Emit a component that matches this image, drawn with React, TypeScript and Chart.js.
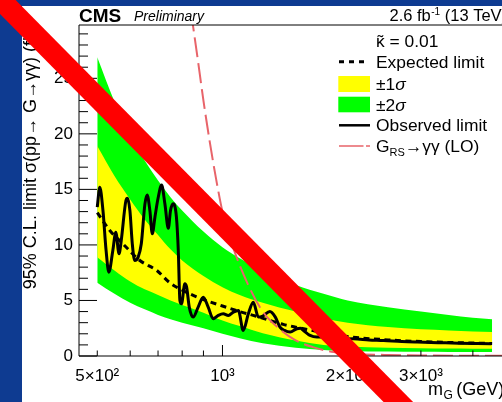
import React, { useEffect, useRef } from 'react';
import { Chart, registerables } from 'chart.js';

Chart.register(...registerables);

// ---------- data ----------
const bandMass = [500, 550, 600, 650, 700, 750, 800, 900, 1000, 1100, 1250, 1500, 1750, 2000, 2500, 3000, 3500, 4000, 4450];
const band2SigmaUp = [26.9, 22.9, 19.8, 17.6, 15.8, 14.3, 13.1, 11.2, 9.8, 8.8, 7.7, 6.4, 5.6, 5.0, 4.4, 4.0, 3.7, 3.45, 3.3];
const band1SigmaUp = [18.9, 16.2, 14.1, 12.3, 10.9, 9.6, 8.6, 7.2, 6.2, 5.5, 4.8, 4.0, 3.4, 3.0, 2.6, 2.4, 2.3, 2.2, 2.15];
const band1SigmaDown = [8.9, 7.7, 6.7, 6.0, 5.5, 5.0, 4.6, 3.9, 3.2, 2.7, 2.05, 1.4, 1.0, 0.85, 0.75, 0.7, 0.68, 0.66, 0.65];
const band2SigmaDown = [6.6, 5.6, 4.8, 4.2, 3.7, 3.3, 3.0, 2.5, 2.0, 1.6, 1.15, 0.75, 0.55, 0.45, 0.4, 0.38, 0.37, 0.36, 0.36];

const expectedMass = [500, 536, 576, 633, 695, 747, 803, 883, 1000, 1100, 1200, 1300, 1400, 1500, 1750, 2000, 2500, 3000, 3500, 4000, 4450];
const expectedLimit = [12.9, 11.3, 10.1, 8.6, 7.7, 6.6, 5.9, 5.2, 4.5, 4.0, 3.6, 3.2, 2.85, 2.6, 2.1, 1.75, 1.45, 1.3, 1.22, 1.17, 1.12];

const observedMass = [500, 507, 516, 525, 533, 545, 554, 564, 571, 586, 591, 599, 607, 615, 627, 638, 651, 659, 669, 678, 688, 700, 714, 727, 741, 750, 761, 775, 783, 790, 797, 812, 820, 832, 850, 874, 899, 924, 950, 977, 1004, 1033, 1062, 1092, 1122, 1154, 1186, 1220, 1250, 1300, 1340, 1375, 1410, 1454, 1509, 1540, 1566, 1624, 1686, 1750, 1815, 1900, 2065, 2250, 2440, 2700, 2940, 3300, 3700, 4100, 4430];
const observedLimit = [13.4, 15.2, 13.1, 9.5, 7.55, 9.5, 11.15, 9.2, 10.4, 14.0, 14.2, 13.1, 10.1, 8.6, 8.9, 10.1, 13.7, 14.5, 13.1, 11.0, 12.5, 14.2, 15.4, 13.7, 11.5, 13.1, 13.7, 12.5, 9.5, 5.0, 4.7, 6.5, 6.2, 4.4, 3.5, 4.4, 5.3, 4.4, 3.35, 3.65, 3.8, 3.65, 3.95, 4.1, 2.3, 3.8, 4.85, 3.5, 3.6, 4.0, 3.5, 2.6, 2.3, 2.15, 2.45, 2.5, 2.3, 1.85, 1.7, 1.7, 1.55, 1.5, 1.55, 1.45, 1.4, 1.3, 1.25, 1.2, 1.15, 1.12, 1.1];

const theoryMass = [840, 870, 900, 930, 970, 1000, 1060, 1150, 1250, 1375, 1500, 1650, 1850, 2100, 2500, 3000, 4000, 5500];
const theoryXsec = [31, 27, 23, 19.5, 15.5, 13, 9.8, 6.5, 4.0, 2.4, 1.4, 0.8, 0.35, 0.18, 0.09, 0.05, 0.02, 0.01];

const xTickValues = [500, 600, 700, 800, 900, 1000, 2000, 3000, 4000];
const xTickLabels: Record<number, string> = { 500: '5×10²', 1000: '10³', 2000: '2×10³', 3000: '3×10³' };
const yTickValues = Array.from({ length: 30 }, (_, i) => i);
const yTitle = '95% C.L. limit σ(pp→ G→γγ) (fb)';

const FONT = "'Liberation Sans', Arial, Helvetica, sans-serif";

const pts = (xs: number[], ys: number[]) => xs.map((x, i) => ({ x, y: ys[i] }));

function drawText(ctx: CanvasRenderingContext2D, s: string, x: number, y: number, font: string, color = '#000', align: CanvasTextAlign = 'left') {
  ctx.font = font;
  ctx.fillStyle = color;
  ctx.textAlign = align;
  ctx.textBaseline = 'alphabetic';
  ctx.fillText(s, x, y);
  return ctx.measureText(s).width;
}

const decorPlugin = {
  id: 'decor',
  beforeDraw(chart: any) {
    const { ctx, width, height } = chart;
    ctx.save();
    ctx.fillStyle = '#0e3b91';
    ctx.fillRect(0, 0, width, height);
    ctx.fillStyle = '#ffffff';
    ctx.fillRect(22, 6, width - 22, height - 6);
    ctx.restore();
  },
  afterDatasetsDraw(chart: any) {
    const { ctx, chartArea: ca, scales } = chart;
    const xs = scales.x;
    const ys = scales.y;
    ctx.save();
    ctx.strokeStyle = '#000';
    ctx.lineWidth = 1;
    ctx.beginPath();
    ctx.moveTo(ca.left, ca.top);
    ctx.lineTo(ca.left, ca.bottom);
    ctx.moveTo(ca.left, ca.bottom);
    ctx.lineTo(chart.width, ca.bottom);
    ctx.moveTo(ca.left, ca.top);
    ctx.lineTo(chart.width, ca.top);
    for (const v of yTickValues) {
      const py = ys.getPixelForValue(v);
      const len = v % 5 === 0 ? 18 : 9;
      ctx.moveTo(ca.left, py);
      ctx.lineTo(ca.left + len, py);
    }
    for (const v of xTickValues) {
      const px = xs.getPixelForValue(v);
      const len = v === 1000 ? 11 : 5.5;
      ctx.moveTo(px, ca.bottom);
      ctx.lineTo(px, ca.bottom - len);
    }
    ctx.stroke();
    ctx.restore();
  },
  afterDraw(chart: any) {
    const { ctx } = chart;
    ctx.save();
    // header
    drawText(ctx, 'CMS', 79, 21.7, `bold 19px ${FONT}`);
    drawText(ctx, 'Preliminary', 134, 20.7, `italic 14px ${FONT}`);
    let hx = 389.5;
    hx += drawText(ctx, '2.6 fb', hx, 20.7, `16.5px ${FONT}`);
    hx += drawText(ctx, '-1', hx + 0.5, 15, `10px ${FONT}`) + 0.5;
    drawText(ctx, ' (13 TeV)', hx, 20.7, `16.5px ${FONT}`);

    // x-axis title
    let tx = 428;
    tx += drawText(ctx, 'm', tx, 395, `18px ${FONT}`);
    tx += drawText(ctx, 'G', tx + 0.5, 399, `12px ${FONT}`) + 0.5;
    drawText(ctx, '(GeV)', tx + 3.5, 395, `18px ${FONT}`);

    // legend
    const LF = `17.4px ${FONT}`;
    const tX = 376;
    const kw = drawText(ctx, 'κ', tX, 46.7, LF);
    drawText(ctx, '˜', tX + kw / 2, 46.7, LF, '#000', 'center');
    drawText(ctx, ' = 0.01', tX + kw, 46.7, LF);

    ctx.strokeStyle = '#000';
    ctx.lineWidth = 3;
    ctx.setLineDash([5, 5]);
    ctx.beginPath();
    ctx.moveTo(339, 61.7);
    ctx.lineTo(364, 61.7);
    ctx.stroke();
    ctx.setLineDash([]);
    drawText(ctx, 'Expected limit', tX, 68.3, LF);

    ctx.fillStyle = '#ffff00';
    ctx.fillRect(338.3, 76, 31.7, 16);
    let sx = tX + drawText(ctx, '±1', tX, 89.6, LF);
    drawText(ctx, 'σ', sx, 89.6, `italic 17.4px ${FONT}`);

    ctx.fillStyle = '#00ff00';
    ctx.fillRect(338.3, 96.7, 31.7, 15.6);
    sx = tX + drawText(ctx, '±2', tX, 110.7, LF);
    drawText(ctx, 'σ', sx, 110.7, `italic 17.4px ${FONT}`);

    ctx.strokeStyle = '#000';
    ctx.lineWidth = 2.5;
    ctx.beginPath();
    ctx.moveTo(339, 125.3);
    ctx.lineTo(370, 125.3);
    ctx.stroke();
    drawText(ctx, 'Observed limit', tX, 130.5, LF);

    ctx.strokeStyle = '#e8646a';
    ctx.lineWidth = 1.6;
    ctx.setLineDash([24.5, 2.5]);
    ctx.beginPath();
    ctx.moveTo(339, 146);
    ctx.lineTo(370, 146);
    ctx.stroke();
    ctx.setLineDash([]);
    let gx = tX + drawText(ctx, 'G', tX, 151.7, LF);
    gx += drawText(ctx, 'RS', gx, 156, `11px ${FONT}`);
    drawText(ctx, '→γγ (LO)', gx, 151.7, LF);

    // red cross-out stroke
    ctx.strokeStyle = '#ff0000';
    ctx.lineWidth = 21;
    ctx.lineCap = 'butt';
    ctx.beginPath();
    ctx.moveTo(-31, -32.2);
    ctx.lineTo(428, 432);
    ctx.stroke();
    ctx.restore();
  },
};

export default function App() {
  const ref = useRef<HTMLCanvasElement | null>(null);
  useEffect(() => {
    if (!ref.current) return;
    const chart = new Chart(ref.current, {
      type: 'line',
      data: {
        datasets: [
          { label: 'g2up', data: pts(bandMass, band2SigmaUp), borderColor: 'transparent', borderWidth: 0, pointRadius: 0, backgroundColor: '#00ff00', fill: '+1', order: 10, cubicInterpolationMode: 'monotone' },
          { label: 'g2dn', data: pts(bandMass, band2SigmaDown), borderColor: 'transparent', borderWidth: 0, pointRadius: 0, fill: false, order: 10, cubicInterpolationMode: 'monotone' },
          { label: 'y1up', data: pts(bandMass, band1SigmaUp), borderColor: 'transparent', borderWidth: 0, pointRadius: 0, backgroundColor: '#ffff00', fill: '+1', order: 9, cubicInterpolationMode: 'monotone' },
          { label: 'y1dn', data: pts(bandMass, band1SigmaDown), borderColor: 'transparent', borderWidth: 0, pointRadius: 0, fill: false, order: 9, cubicInterpolationMode: 'monotone' },
          { label: 'Expected limit', data: pts(expectedMass, expectedLimit), borderColor: '#000', borderWidth: 3, borderDash: [6, 4.5], pointRadius: 0, fill: false, order: 3, cubicInterpolationMode: 'monotone' },
          { label: 'Observed limit', data: pts(observedMass, observedLimit), borderColor: '#000', borderWidth: 3, pointRadius: 0, fill: false, order: 2, cubicInterpolationMode: 'monotone' },
          { label: 'G_RS', data: pts(theoryMass, theoryXsec), borderColor: '#e8646a', borderWidth: 2, borderDash: [20, 6], pointRadius: 0, fill: false, order: 1, cubicInterpolationMode: 'monotone' },
        ] as any,
      },
      options: {
        animation: false,
        responsive: false,
        maintainAspectRatio: false,
        events: [],
        layout: { padding: { top: 25, right: 30, left: 0, bottom: 0 } },
        plugins: { legend: { display: false }, tooltip: { enabled: false }, title: { display: false } },
        scales: {
          x: {
            type: 'logarithmic',
            min: 451.9,
            max: 5488,
            bounds: 'data',
            grid: { display: false, drawTicks: false },
            border: { display: false },
            afterBuildTicks: (s: any) => { s.ticks = xTickValues.map((v) => ({ value: v })); },
            afterFit: (s: any) => { s.height = 46; },
            ticks: {
              autoSkip: false,
              maxRotation: 0,
              minRotation: 0,
              padding: 10,
              color: '#000',
              font: { family: FONT, size: 17 },
              callback: (v: any) => xTickLabels[Number(v)] ?? '',
            },
          },
          y: {
            type: 'linear',
            min: 0,
            max: 29.8,
            grid: { display: false, drawTicks: false },
            border: { display: false },
            afterBuildTicks: (s: any) => { s.ticks = yTickValues.map((v) => ({ value: v })); },
            afterFit: (s: any) => { s.width = 79; },
            ticks: {
              autoSkip: false,
              padding: 6,
              color: '#000',
              font: { family: FONT, size: 17 },
              callback: (v: any) => (Number(v) % 5 === 0 ? String(v) : ''),
            },
            title: {
              display: true,
              text: yTitle,
              align: 'end',
              color: '#000',
              font: { family: FONT, size: 18 },
              padding: { top: 20, bottom: 0 },
            },
          },
        },
      } as any,
      plugins: [decorPlugin],
    });
    return () => chart.destroy();
  }, []);

  return (
    <div style={{ position: 'fixed', left: 0, top: 0, width: 502, height: 402, overflow: 'hidden', background: '#0e3b91' }}>
      <canvas ref={ref} width={560} height={402} style={{ display: 'block', width: 560, height: 402 }} />
    </div>
  );
}
